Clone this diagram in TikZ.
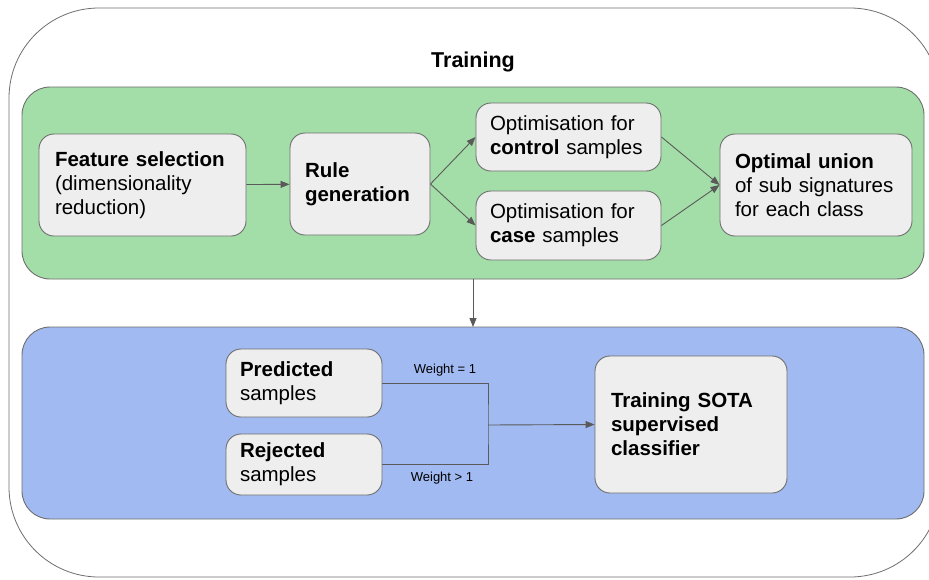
\documentclass[tikz,border=0pt]{standalone}
\usepackage{fontspec}
\setmainfont{Liberation Sans}
\usetikzlibrary{arrows.meta,positioning}
\definecolor{PanelGreen}{RGB}{163,222,168}
\definecolor{PanelBlue}{RGB}{161,186,241}
\definecolor{BoxGray}{RGB}{238,238,238}
\definecolor{EdgeGray}{RGB}{110,110,110}
\definecolor{LinkGray}{RGB}{90,90,90}

\begin{document}
\begin{tikzpicture}[
    x=1pt, y=-1pt,
    font=\fontsize{20.5}{24}\selectfont,
    panel/.style={draw=EdgeGray, line width=0.9pt, rounded corners=28pt},
    wb/.style={draw=EdgeGray, fill=BoxGray, line width=0.9pt, rounded corners=15pt,
               align=left, inner xsep=0pt, inner ysep=0pt},
    link/.style={-{Triangle[length=9pt,width=7pt]}, draw=LinkGray, line width=0.9pt},
    wlabel/.style={font=\fontsize{13}{15}\selectfont}
  ]
  \path[use as bounding box, clip] (0,0) rectangle (929,579);

  % Tashqi ramka
  \draw[EdgeGray, line width=0.8pt, rounded corners=90pt] (9,8) rectangle (940,577);
  \node[font=\fontsize{21.5}{24}\selectfont\bfseries] (title) at (473,62) {Training};

  % Yashil panel: qoidalar
  \draw[panel, fill=PanelGreen] (22,87) rectangle (924,279);
  \coordinate (gbot) at (473,279);

  \node[wb, minimum width=207pt, minimum height=102pt, text width=175pt] (feat) at (142.5,185)
    {\textbf{Feature selection}\\(dimensionality\\reduction)};
  \node[wb, minimum width=140pt, minimum height=102pt, text width=110pt] (rule) at (360,184)
    {\textbf{Rule}\\\textbf{generation}};
  \node[wb, minimum width=185pt, minimum height=68pt, text width=157pt] (ctrl) at (568.5,137)
    {Optimisation for\\\textbf{control} samples};
  \node[wb, minimum width=185pt, minimum height=69pt, text width=157pt] (case) at (568.5,225.5)
    {Optimisation for\\\textbf{case} samples};
  \node[wb, minimum width=192pt, minimum height=102pt, text width=162pt] (union) at (816,185)
    {\textbf{Optimal union}\\of sub signatures\\for each class};

  \draw[link] (feat) -- (rule);
  \draw[link] (rule.east) -- (ctrl.west);
  \draw[link] (rule.east) -- (case.west);
  \draw[link] (ctrl.east) -- (union.west);
  \draw[link] (case.east) -- (union.west);

  % Ko'k panel: klassifikator
  \draw[panel, fill=PanelBlue] (22,327) rectangle (924,519);
  \coordinate (btop) at (473,327);
  \draw[link] (gbot) -- (btop);

  \node[wb, minimum width=156pt, minimum height=68pt, text width=128pt] (pred) at (304,383)
    {\textbf{Predicted}\\samples};
  \node[wb, minimum width=156pt, minimum height=61pt, text width=128pt] (rej) at (304,464.5)
    {\textbf{Rejected}\\samples};
  \node[wb, minimum width=192pt, minimum height=137pt, text width=160pt] (sota) at (691,424.5)
    {\textbf{Training SOTA}\\\textbf{supervised}\\\textbf{classifier}};

  \coordinate (join) at (488,425);
  \draw[LinkGray, line width=0.9pt] (pred.east) -| (join) |- (rej.east);
  \draw[link] (join) -- (sota.west);

  \node[wlabel] (w1) at (445,370) {Weight = 1};
  \node[wlabel] (w2) at (442,478) {Weight > 1};

\end{tikzpicture}
\end{document}
